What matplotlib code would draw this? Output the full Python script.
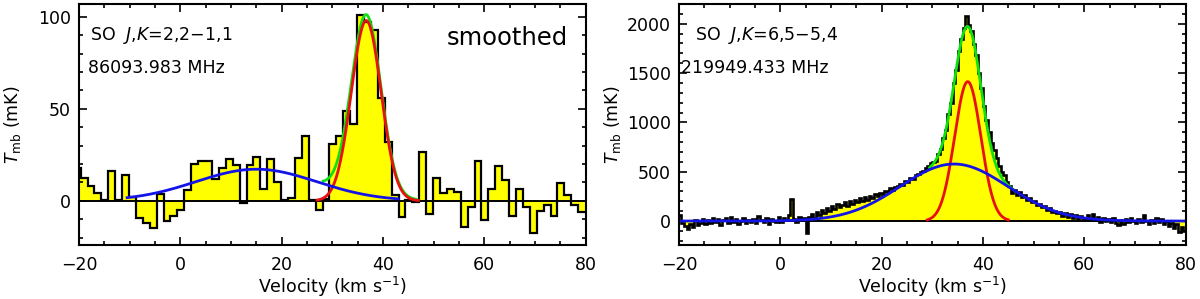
import numpy as np
import matplotlib
matplotlib.use('Agg')
import matplotlib.pyplot as plt

plt.rcParams['font.family'] = ['DejaVu Sans']
plt.rcParams['mathtext.fontset'] = 'dejavusans'

# ── Left panel: SO 2,2-1,1 (smoothed), channel grid and brightness (mK) ──
left_v0 = -21.03      # first channel edge (km/s)
left_dv = 1.364       # channel width (km/s)
left_tmb = [
    17.8, 12.3, 7.8, 4.5, 0.3, 16.3, 0.7, 13.8, 2.0, -9.4,
    -11.8, -14.9, 3.8, -11.2, -8.2, -4.9, 6.0, 20.1, 21.4, 21.4,
    11.8, 17.8, 22.6, 19.6, -1.3, 19.6, 24.1, 6.3, 22.6, 10.0,
    0.3, 1.5, 23.2, 35.3, 0.5, -5.0, 1.0, 31.0, 35.0, 49.0,
    42.0, 101.0, 97.0, 93.0, 56.0, 32.0, 3.3, -8.7, 0.3, -0.8,
    26.8, -7.0, 12.3, 4.5, 6.3, 5.0, -14.3, -3.1, 21.4, -10.3,
    6.3, 18.7, 11.4, -8.2, 6.3, -3.1, -17.6, -5.3, -2.2, -8.2,
    9.6, 3.3, -2.2, -6.3,
]
# gaussian fit components: (amplitude mK, centre km/s, FWHM km/s)
left_narrow = (98.0, 36.7, 6.9)
left_broad = (17.2, 15.0, 28.0)
# velocity ranges over which each fit curve is drawn
left_narrow_range = (27.0, 47.0)
left_total_range = (28.2, 46.5)
left_broad_range = (-10.5, 43.0)

# ── Right panel: SO 6,5-5,4 ──
right_v0 = -20.0
right_dv = 0.5
right_tmb = [
    60, -20, -50, -80, -30, -60, 10, -40, -20, 20,
    -30, 10, -20, 30, -10, 20, -40, 10, 30, -20,
    40, -10, 20, -30, 0, 30, -20, 10, -10, 20,
    -20, 50, 10, -10, 30, -30, 20, 0, -10, 40,
    -10, 30, 10, 60, 220, 20, -10, 40, 10, 30,
    -120, 40, 70, 30, 90, 60, 110, 80, 130, 100,
    150, 120, 170, 140, 160, 190, 150, 200, 170, 210,
    190, 230, 200, 240, 210, 250, 230, 270, 250, 280,
    260, 300, 290, 330, 310, 350, 360, 380, 370, 410,
    400, 440, 430, 470, 480, 500, 510, 540, 560, 590,
    600, 610, 680, 730, 840, 920, 1080, 1200, 1400, 1530,
    1720, 1850, 1960, 2080, 1990, 1930, 1790, 1680, 1500, 1350,
    1170, 1020, 900, 790, 720, 640, 560, 500, 470, 400,
    360, 280, 310, 260, 290, 240, 260, 210, 230, 190,
    200, 160, 170, 140, 150, 110, 130, 90, 100, 80,
    90, 50, 80, 40, 70, 30, 60, 20, 50, 30,
    10, 60, 20, 70, 10, 40, -10, 30, 0, 20,
    -10, 30, -20, -40, 10, -30, 20, -10, 30, 0,
    -20, 20, -10, 60, 0, -30, 10, -20, 30, -10,
    20, -30, 0, -50, -20, -70, -30, -110, -60, -100,
]
right_narrow = (1413.0, 37.0, 6.1)
right_broad = (578.0, 34.3, 25.0)
right_narrow_range = (29.0, 45.0)
right_total_range = (29.5, 46.0)
right_broad_range = (-20.0, 80.0)

panels = [
    dict(v0=left_v0, dv=left_dv, tmb=left_tmb, narrow=left_narrow,
         broad=left_broad, nr=left_narrow_range, tr=left_total_range,
         br=left_broad_range, ylim=(-24, 107), major=50, minor=10,
         line='SO  $J$,$K$=2,2$-$1,1', freq='86093.983 MHz',
         smoothed=True, tx=0.022, fx=0.018, dlw=1.6),
    dict(v0=right_v0, dv=right_dv, tmb=right_tmb, narrow=right_narrow,
         broad=right_broad, nr=right_narrow_range, tr=right_total_range,
         br=right_broad_range, ylim=(-243, 2200), major=500, minor=100,
         line='SO  $J$,$K$=6,5$-$5,4', freq='219949.433 MHz',
         smoothed=False, tx=0.032, fx=0.005, dlw=1.9),
]


def gauss(v, amp, cen, fwhm):
    sig = fwhm / 2.3548
    return amp * np.exp(-0.5 * ((v - cen) / sig) ** 2)


def span(r):
    return np.linspace(r[0], r[1], 600)


fig = plt.figure(figsize=(12, 2.99), dpi=100)
lefts = [0.0658, 0.5658]

for p, x0 in zip(panels, lefts):
    ax = fig.add_axes([x0, 0.1806, 0.4222, 0.806])
    tmb = np.asarray(p['tmb'], dtype=float)
    edges = p['v0'] + p['dv'] * np.arange(len(tmb) + 1)

    ax.stairs(tmb, edges, baseline=0, fill=True, color='#ffff00', lw=0)
    ax.stairs(tmb, edges, baseline=None, color='black', lw=p['dlw'])
    ax.axhline(0, color='black', lw=1.4)

    vt = span(p['tr'])
    ax.plot(vt, gauss(vt, *p['narrow']) + gauss(vt, *p['broad']),
            color='#10e010', lw=2.0)
    vn = span(p['nr'])
    ax.plot(vn, gauss(vn, *p['narrow']), color='#e81010', lw=2.0)
    vb = span(p['br'])
    ax.plot(vb, gauss(vb, *p['broad']), color='#1414e6', lw=2.0)

    ax.set_xlim(-20, 80)
    ax.set_ylim(*p['ylim'])
    ax.set_xticks(np.arange(-20, 81, 20))
    ax.set_xticks(np.arange(-20, 81, 5), minor=True)
    ax.set_yticks(np.arange(0, p['ylim'][1], p['major']))
    ax.set_yticks(np.arange(-200 if p['major'] > 100 else -20,
                            p['ylim'][1], p['minor']), minor=True)
    ax.tick_params(which='both', direction='in', top=True, right=True,
                   width=1.2, labelsize=12.5)
    ax.tick_params(which='major', length=6)
    ax.tick_params(which='minor', length=3)
    ax.tick_params(axis='x', pad=8)
    ax.tick_params(axis='y', pad=6)
    for s in ax.spines.values():
        s.set_linewidth(1.5)

    ax.set_xlabel('Velocity (km s$^{-1}$)', fontsize=12.5)
    ax.set_ylabel('$T_{\\rm mb}$ (mK)', fontsize=12.5)
    ax.xaxis.set_label_coords(0.5, -0.125)
    ax.yaxis.set_label_coords(-0.11, 0.5)

    ax.text(p['tx'], 0.87, p['line'], transform=ax.transAxes,
            fontsize=12.5, va='center', ha='left')
    ax.text(p['fx'], 0.735, p['freq'], transform=ax.transAxes,
            fontsize=12.5, va='center', ha='left')
    if p['smoothed']:
        ax.text(0.966, 0.86, 'smoothed', transform=ax.transAxes,
                fontsize=17.5, va='center', ha='right')

fig.savefig('out.png', dpi=100)
